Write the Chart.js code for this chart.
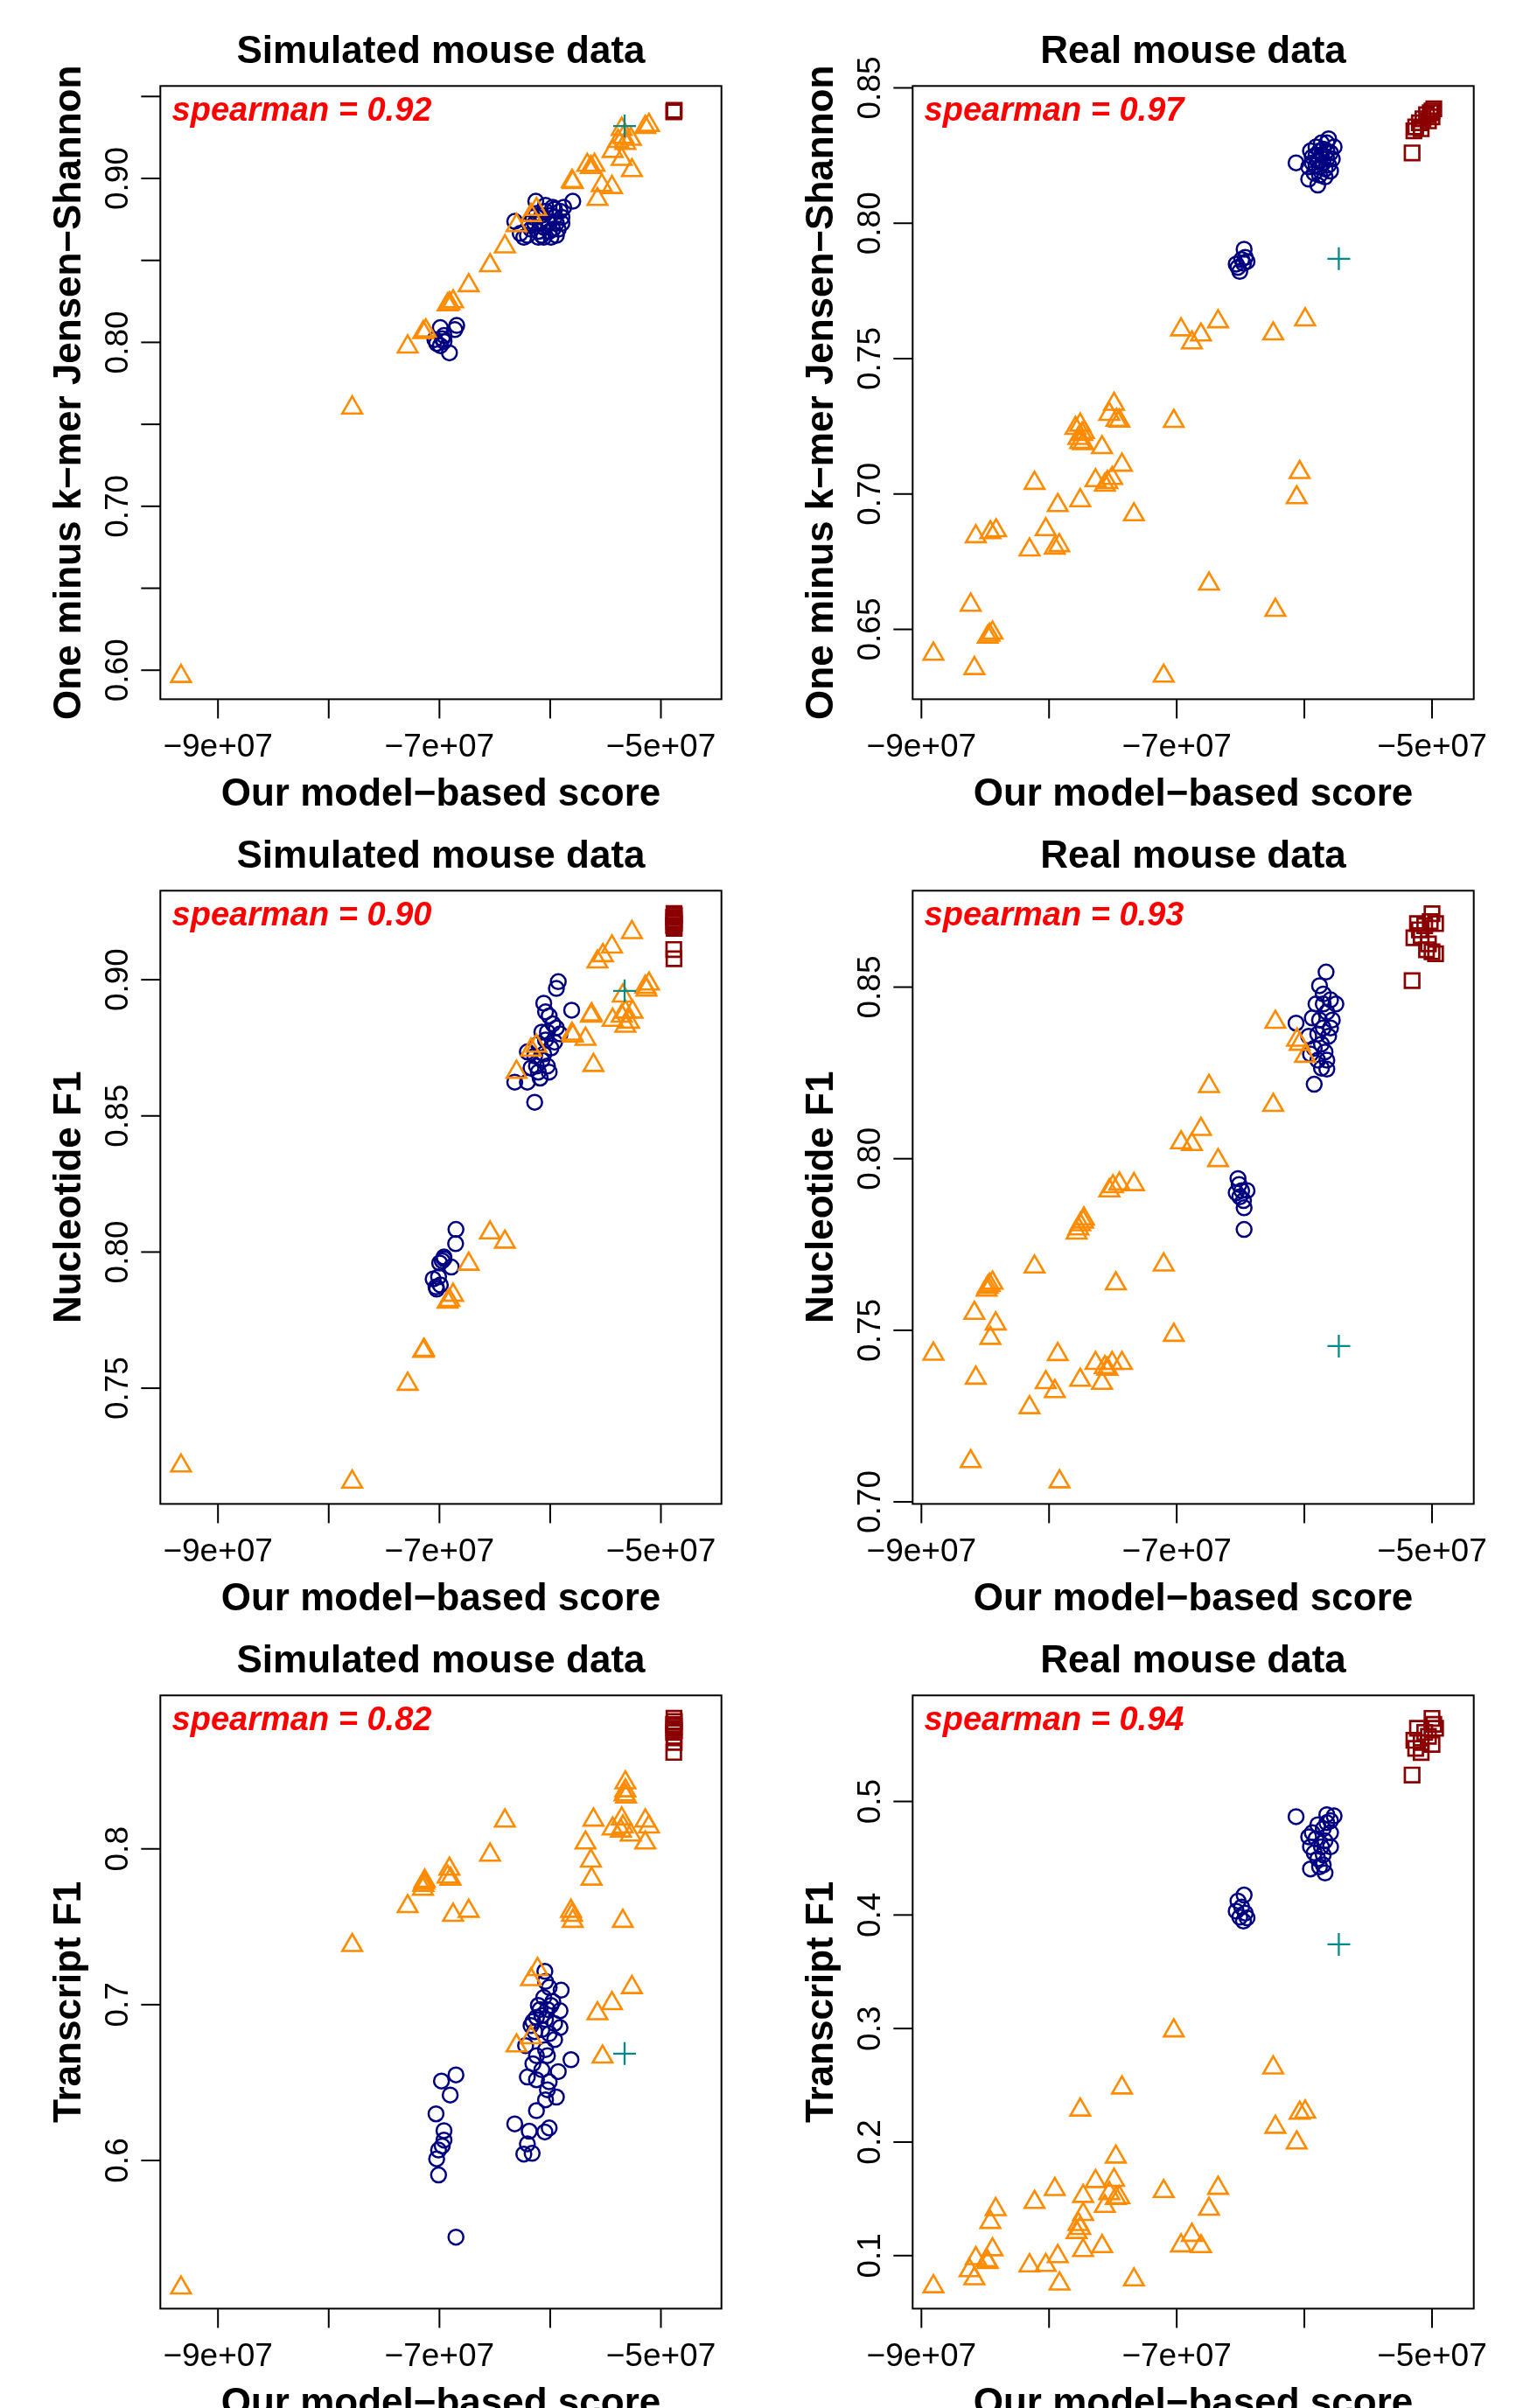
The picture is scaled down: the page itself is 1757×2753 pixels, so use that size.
<!DOCTYPE html>
<html>
<head>
<meta charset="utf-8">
<script src="https://cdn.jsdelivr.net/npm/chart.js@4.4.0/dist/chart.umd.min.js"></script>
<style>
  html, body { margin: 0; padding: 0; background: #fff; }
  #page { position: relative; width: 1757px; height: 2753px; overflow: hidden; background: #fff; }
  canvas { position: absolute; }
</style>
</head>
<body>
<div id="page"></div>
<script>
// ---- axis ticks ----
const xTicks = [-9e7, -8e7, -7e7, -6e7, -5e7];
const xTickLabels = ['\u22129e+07', '', '\u22127e+07', '', '\u22125e+07'];

const kmerSimTicks = [0.60, 0.65, 0.70, 0.75, 0.80, 0.85, 0.90, 0.95];
const kmerSimTickLabels = ['0.60', '', '0.70', '', '0.80', '', '0.90', ''];
const kmerRealTicks = [0.65, 0.70, 0.75, 0.80, 0.85];
const kmerRealTickLabels = ['0.65', '0.70', '0.75', '0.80', '0.85'];
const nucSimTicks = [0.75, 0.80, 0.85, 0.90];
const nucSimTickLabels = ['0.75', '0.80', '0.85', '0.90'];
const nucRealTicks = [0.70, 0.75, 0.80, 0.85];
const nucRealTickLabels = ['0.70', '0.75', '0.80', '0.85'];
const txSimTicks = [0.6, 0.7, 0.8];
const txSimTickLabels = ['0.6', '0.7', '0.8'];
const txRealTicks = [0.1, 0.2, 0.3, 0.4, 0.5];
const txRealTickLabels = ['0.1', '0.2', '0.3', '0.4', '0.5'];

// ---- k-mer, simulated ----
const kmerSimTriX = [-9.334e7, -7.788e7, -7.287e7, -7.146e7, -7.123e7, -6.926e7, -6.910e7, -6.877e7, -6.736e7, -6.543e7, -6.409e7, -6.304e7, -6.173e7, -6.124e7, -5.803e7, -5.796e7, -5.665e7, -5.632e7, -5.600e7, -5.573e7, -5.534e7, -5.442e7, -5.436e7, -5.354e7, -5.262e7, -5.387e7, -5.338e7, -5.321e7, -5.272e7, -5.354e7, -5.141e7, -5.108e7];
const kmerSimTriY = [0.5963, 0.7601, 0.7973, 0.8061, 0.8071, 0.8230, 0.8237, 0.8249, 0.8347, 0.8469, 0.8584, 0.8714, 0.8775, 0.8812, 0.8983, 0.8976, 0.9081, 0.9068, 0.9081, 0.8873, 0.8958, 0.8946, 0.9166, 0.9117, 0.9049, 0.9227, 0.9252, 0.9215, 0.9240, 0.9301, 0.9313, 0.9325];
const kmerSimCircX = [-6.992e7, -6.959e7, -6.844e7, -6.861e7, -7.025e7, -6.992e7, -6.959e7, -6.910e7, -7.041e7, -6.975e7, -6.130e7, -6.320e7, -5.796e7, -6.206e7, -6.107e7, -6.009e7, -5.944e7, -5.911e7, -5.976e7, -6.042e7, -6.075e7, -6.140e7, -6.025e7, -5.960e7, -5.894e7, -6.238e7, -6.173e7, -6.058e7, -5.944e7, -5.878e7, -6.091e7, -5.993e7, -6.124e7, -6.058e7, -5.976e7, -6.271e7, -6.075e7, -5.993e7, -6.156e7, -5.927e7, -6.042e7, -6.107e7, -5.960e7, -5.894e7, -6.189e7, -6.009e7];
const kmerSimCircY = [0.8090, 0.8042, 0.8103, 0.8078, 0.7993, 0.7980, 0.8005, 0.7936, 0.8017, 0.8022, 0.8861, 0.8738, 0.8861, 0.8653, 0.8677, 0.8677, 0.8726, 0.8800, 0.8824, 0.8836, 0.8775, 0.8726, 0.8738, 0.8763, 0.8763, 0.8641, 0.8690, 0.8641, 0.8653, 0.8824, 0.8726, 0.8775, 0.8787, 0.8702, 0.8690, 0.8665, 0.8653, 0.8641, 0.8763, 0.8690, 0.8800, 0.8641, 0.8812, 0.8726, 0.8726, 0.8726];
const kmerSimSqX = [-4.882e7, -4.880e7, -4.884e7];
const kmerSimSqY = [0.9411, 0.9416, 0.9406];
const kmerSimPlusX = [-5.328e7];
const kmerSimPlusY = [0.9320];

// ---- k-mer, real ----
const kmerRealTriX = [-8.906e7, -8.585e7, -8.614e7, -8.480e7, -8.466e7, -8.443e7, -8.574e7, -8.460e7, -8.415e7, -8.153e7, -8.114e7, -8.026e7, -7.955e7, -7.920e7, -7.932e7, -7.756e7, -7.636e7, -7.563e7, -7.543e7, -7.506e7, -7.429e7, -7.335e7, -7.793e7, -7.756e7, -7.741e7, -7.756e7, -7.733e7, -7.770e7, -7.727e7, -7.585e7, -7.528e7, -7.491e7, -7.472e7, -7.449e7, -7.023e7, -7.102e7, -6.966e7, -6.881e7, -6.810e7, -6.676e7, -6.244e7, -5.994e7, -6.747e7, -6.227e7, -6.037e7, -6.060e7];
const kmerRealTriY = [0.6409, 0.6356, 0.6590, 0.6472, 0.6479, 0.6487, 0.6843, 0.6858, 0.6865, 0.6794, 0.7040, 0.6869, 0.6801, 0.6810, 0.6958, 0.6976, 0.7050, 0.7033, 0.7043, 0.7058, 0.7107, 0.6924, 0.7243, 0.7255, 0.7221, 0.7191, 0.7187, 0.7206, 0.7228, 0.7172, 0.7295, 0.7332, 0.7273, 0.7270, 0.7269, 0.6328, 0.7607, 0.7559, 0.7588, 0.7637, 0.7592, 0.7644, 0.6668, 0.6571, 0.7080, 0.6987];
const kmerRealCircX = [-6.472e7, -6.491e7, -6.520e7, -6.477e7, -6.449e7, -6.506e7, -6.534e7, -6.463e7, -6.065e7, -5.966e7, -5.895e7, -5.810e7, -5.767e7, -5.852e7, -5.909e7, -5.938e7, -5.881e7, -5.824e7, -5.795e7, -5.838e7, -5.866e7, -5.952e7, -5.895e7, -5.824e7, -5.781e7, -5.923e7, -5.852e7, -5.881e7, -5.810e7, -5.909e7, -5.938e7, -5.866e7, -5.838e7, -5.909e7, -5.966e7, -5.795e7, -5.881e7, -5.824e7];
const kmerRealCircY = [0.7904, 0.7866, 0.7837, 0.7852, 0.7859, 0.7822, 0.7849, 0.7874, 0.8223, 0.8163, 0.8141, 0.8312, 0.8282, 0.8274, 0.8252, 0.8223, 0.8208, 0.8237, 0.8193, 0.8171, 0.8297, 0.8267, 0.8230, 0.8267, 0.8237, 0.8185, 0.8223, 0.8178, 0.8215, 0.8282, 0.8245, 0.8252, 0.8200, 0.8215, 0.8208, 0.8260, 0.8267, 0.8297];
const kmerRealSqX = [-5.156e7, -5.142e7, -5.128e7, -5.099e7, -5.071e7, -5.043e7, -5.014e7, -5.000e7, -4.986e7, -5.085e7, -5.028e7, -5.000e7];
const kmerRealSqY = [0.8260, 0.8341, 0.8356, 0.8371, 0.8386, 0.8401, 0.8408, 0.8415, 0.8423, 0.8349, 0.8378, 0.8393];
const kmerRealPlusX = [-5.730e7];
const kmerRealPlusY = [0.7869];

// ---- nucleotide F1, simulated ----
const nucSimTriX = [-9.334e7, -7.788e7, -7.287e7, -7.146e7, -7.139e7, -6.926e7, -6.910e7, -6.877e7, -6.736e7, -6.543e7, -6.409e7, -6.304e7, -6.173e7, -6.124e7, -5.803e7, -5.796e7, -5.681e7, -5.609e7, -5.632e7, -5.626e7, -5.573e7, -5.524e7, -5.442e7, -5.262e7, -5.344e7, -5.321e7, -5.354e7, -5.288e7, -5.321e7, -5.256e7, -5.436e7, -5.141e7, -5.108e7, -5.131e7];
const nucSimTriY = [0.7215, 0.7156, 0.7515, 0.7636, 0.7640, 0.7817, 0.7823, 0.7842, 0.7956, 0.8071, 0.8037, 0.8661, 0.8742, 0.8757, 0.8801, 0.8794, 0.8782, 0.8686, 0.8867, 0.8872, 0.9066, 0.9089, 0.9121, 0.9174, 0.8941, 0.8882, 0.8867, 0.8845, 0.8830, 0.8882, 0.8852, 0.8973, 0.8985, 0.8963];
const nucSimCircX = [-6.851e7, -6.854e7, -6.959e7, -6.975e7, -6.998e7, -6.893e7, -7.057e7, -7.008e7, -7.025e7, -6.992e7, -7.031e7, -6.959e7, -5.927e7, -5.944e7, -6.058e7, -5.806e7, -6.042e7, -6.009e7, -5.976e7, -6.075e7, -5.944e7, -5.911e7, -6.107e7, -6.042e7, -5.993e7, -6.140e7, -6.206e7, -6.075e7, -6.025e7, -6.107e7, -6.173e7, -6.320e7, -6.206e7, -6.091e7, -6.140e7, -6.009e7, -6.058e7, -5.960e7, -6.124e7, -6.025e7];
const nucSimCircY = [0.8083, 0.8031, 0.7982, 0.7968, 0.7960, 0.7945, 0.7901, 0.7909, 0.7864, 0.7879, 0.7872, 0.7975, 0.8993, 0.8968, 0.8914, 0.8888, 0.8882, 0.8867, 0.8838, 0.8808, 0.8823, 0.8801, 0.8764, 0.8779, 0.8749, 0.8720, 0.8735, 0.8705, 0.8683, 0.8661, 0.8676, 0.8624, 0.8624, 0.8639, 0.8550, 0.8661, 0.8727, 0.8771, 0.8683, 0.8808];
const nucSimSqX = [-4.882e7, -4.878e7, -4.886e7, -4.880e7, -4.884e7, -4.878e7, -4.886e7, -4.882e7, -4.880e7, -4.884e7, -4.882e7];
const nucSimSqY = [0.9243, 0.9236, 0.9229, 0.9221, 0.9214, 0.9207, 0.9199, 0.9194, 0.9189, 0.9111, 0.9077];
const nucSimPlusX = [-5.328e7];
const nucSimPlusY = [0.8959];

// ---- nucleotide F1, real ----
const nucRealTriX = [-8.906e7, -8.614e7, -8.574e7, -8.585e7, -8.480e7, -8.466e7, -8.443e7, -8.489e7, -8.418e7, -8.460e7, -8.114e7, -8.153e7, -8.026e7, -7.955e7, -7.932e7, -7.756e7, -7.636e7, -7.585e7, -7.563e7, -7.543e7, -7.506e7, -7.429e7, -7.918e7, -7.784e7, -7.770e7, -7.756e7, -7.733e7, -7.727e7, -7.528e7, -7.500e7, -7.449e7, -7.335e7, -7.477e7, -7.102e7, -7.023e7, -6.966e7, -6.881e7, -6.810e7, -6.676e7, -6.747e7, -6.244e7, -6.227e7, -6.057e7, -6.037e7, -5.994e7];
const nucRealTriY = [0.7431, 0.7118, 0.7361, 0.7550, 0.7626, 0.7632, 0.7638, 0.7618, 0.7519, 0.7477, 0.7685, 0.7275, 0.7348, 0.7322, 0.7430, 0.7355, 0.7404, 0.7346, 0.7392, 0.7387, 0.7404, 0.7404, 0.7059, 0.7784, 0.7796, 0.7808, 0.7816, 0.7825, 0.7907, 0.7919, 0.7927, 0.7925, 0.7636, 0.7691, 0.7486, 0.8047, 0.8042, 0.8086, 0.7995, 0.8211, 0.8156, 0.8398, 0.8346, 0.8334, 0.8299];
const nucRealCircX = [-6.520e7, -6.511e7, -6.491e7, -6.449e7, -6.506e7, -6.477e7, -6.534e7, -6.472e7, -6.472e7, -5.830e7, -5.881e7, -5.852e7, -5.795e7, -5.753e7, -5.909e7, -5.824e7, -5.881e7, -5.781e7, -5.938e7, -5.852e7, -5.895e7, -5.810e7, -5.966e7, -6.065e7, -5.866e7, -5.923e7, -5.838e7, -5.895e7, -5.824e7, -5.866e7, -5.824e7, -5.923e7, -5.952e7, -5.795e7, -5.852e7];
const nucRealCircY = [0.7942, 0.7925, 0.7907, 0.7907, 0.7889, 0.7878, 0.7901, 0.7857, 0.7794, 0.8544, 0.8504, 0.8480, 0.8463, 0.8451, 0.8451, 0.8427, 0.8404, 0.8404, 0.8410, 0.8381, 0.8363, 0.8357, 0.8357, 0.8395, 0.8334, 0.8322, 0.8311, 0.8287, 0.8287, 0.8264, 0.8261, 0.8217, 0.8305, 0.8381, 0.8451];
const nucRealSqX = [-5.156e7, -5.000e7, -4.972e7, -5.114e7, -5.057e7, -5.142e7, -5.085e7, -5.028e7, -5.000e7, -4.972e7, -5.043e7, -5.014e7, -5.099e7];
const nucRealSqY = [0.8519, 0.8714, 0.8685, 0.8685, 0.8679, 0.8644, 0.8650, 0.8626, 0.8603, 0.8597, 0.8609, 0.8691, 0.8667];
const nucRealPlusX = [-5.730e7];
const nucRealPlusY = [0.7454];

// ---- transcript F1, simulated ----
const txSimTriX = [-9.334e7, -7.788e7, -7.287e7, -7.146e7, -7.139e7, -7.133e7, -7.149e7, -6.926e7, -6.910e7, -6.900e7, -6.877e7, -6.736e7, -6.543e7, -6.409e7, -6.304e7, -6.173e7, -6.173e7, -6.114e7, -5.803e7, -5.796e7, -5.812e7, -5.681e7, -5.632e7, -5.626e7, -5.609e7, -5.573e7, -5.527e7, -5.442e7, -5.344e7, -5.321e7, -5.321e7, -5.328e7, -5.315e7, -5.354e7, -5.344e7, -5.361e7, -5.272e7, -5.436e7, -5.262e7, -5.141e7, -5.108e7, -5.141e7];
const txSimTriY = [0.5183, 0.7381, 0.7631, 0.7768, 0.7781, 0.7794, 0.7742, 0.7820, 0.7871, 0.7807, 0.7575, 0.7601, 0.7961, 0.8180, 0.6737, 0.6789, 0.7162, 0.7227, 0.7575, 0.7536, 0.7601, 0.8039, 0.7923, 0.7807, 0.8186, 0.6943, 0.6665, 0.7008, 0.7536, 0.8425, 0.8374, 0.8348, 0.8335, 0.8193, 0.8142, 0.8116, 0.8090, 0.8129, 0.7111, 0.8180, 0.8142, 0.8039];
const txSimCircX = [-6.851e7, -6.982e7, -6.903e7, -7.031e7, -6.959e7, -6.959e7, -6.975e7, -7.008e7, -7.025e7, -7.008e7, -6.851e7, -6.048e7, -6.042e7, -6.009e7, -5.901e7, -6.058e7, -5.976e7, -6.025e7, -6.091e7, -5.911e7, -6.124e7, -6.042e7, -5.960e7, -6.173e7, -5.911e7, -6.075e7, -6.009e7, -5.960e7, -6.140e7, -6.222e7, -6.042e7, -6.124e7, -6.025e7, -5.812e7, -6.156e7, -6.075e7, -5.927e7, -6.206e7, -6.124e7, -6.009e7, -6.025e7, -5.944e7, -6.042e7, -6.124e7, -6.320e7, -6.189e7, -6.048e7, -6.009e7, -6.206e7, -6.238e7, -6.163e7, -6.107e7, -5.993e7, -6.075e7, -6.156e7];
const txSimCircY = [0.6549, 0.6510, 0.6420, 0.6299, 0.6191, 0.6131, 0.6093, 0.6067, 0.6010, 0.5907, 0.5508, 0.7214, 0.7149, 0.7111, 0.7093, 0.7046, 0.7021, 0.6969, 0.6969, 0.6961, 0.6918, 0.6905, 0.6879, 0.6866, 0.6853, 0.6840, 0.6814, 0.6776, 0.6827, 0.6737, 0.6711, 0.6673, 0.6673, 0.6647, 0.6621, 0.6582, 0.6570, 0.6536, 0.6518, 0.6505, 0.6454, 0.6407, 0.6389, 0.6320, 0.6235, 0.6188, 0.6183, 0.6209, 0.6106, 0.6041, 0.6046, 0.6995, 0.6995, 0.6930, 0.6892];
const txSimSqX = [-4.882e7, -4.878e7, -4.886e7, -4.880e7, -4.884e7, -4.878e7, -4.886e7, -4.882e7, -4.880e7, -4.884e7];
const txSimSqY = [0.8838, 0.8818, 0.8799, 0.8786, 0.8773, 0.8760, 0.8747, 0.8722, 0.8683, 0.8619];
const txSimPlusX = [-5.328e7];
const txSimPlusY = [0.6686];

// ---- transcript F1, real ----
const txRealTriX = [-8.906e7, -8.585e7, -8.622e7, -8.574e7, -8.480e7, -8.489e7, -8.443e7, -8.460e7, -8.418e7, -8.153e7, -8.114e7, -8.026e7, -7.932e7, -7.955e7, -7.918e7, -7.784e7, -7.756e7, -7.770e7, -7.733e7, -7.733e7, -7.733e7, -7.756e7, -7.636e7, -7.585e7, -7.563e7, -7.528e7, -7.491e7, -7.449e7, -7.477e7, -7.477e7, -7.429e7, -7.335e7, -7.102e7, -7.023e7, -6.966e7, -6.881e7, -6.810e7, -6.747e7, -6.676e7, -6.244e7, -6.227e7, -6.060e7, -6.037e7, -5.994e7];
const txRealTriY = [0.0728, 0.0798, 0.0869, 0.0975, 0.0940, 0.0958, 0.1053, 0.1294, 0.1407, 0.0912, 0.1470, 0.0915, 0.0993, 0.1584, 0.0752, 0.1205, 0.1241, 0.1276, 0.1046, 0.1364, 0.1523, 0.2284, 0.1654, 0.1081, 0.1435, 0.1548, 0.1665, 0.1513, 0.1506, 0.1870, 0.2478, 0.0788, 0.1566, 0.2981, 0.1088, 0.1180, 0.1081, 0.1410, 0.1594, 0.2655, 0.2132, 0.1994, 0.2256, 0.2266];
const txRealCircX = [-6.472e7, -6.520e7, -6.491e7, -6.534e7, -6.463e7, -6.506e7, -6.449e7, -6.477e7, -6.065e7, -5.824e7, -5.767e7, -5.795e7, -5.895e7, -5.852e7, -5.795e7, -5.966e7, -5.909e7, -5.838e7, -5.952e7, -5.866e7, -5.795e7, -5.923e7, -5.852e7, -5.895e7, -5.952e7, -5.881e7, -5.838e7, -5.852e7, -5.938e7, -5.824e7];
const txRealCircY = [0.4176, 0.4123, 0.4070, 0.4034, 0.4017, 0.3981, 0.3974, 0.3946, 0.4866, 0.4883, 0.4873, 0.4830, 0.4795, 0.4760, 0.4724, 0.4689, 0.4671, 0.4653, 0.4600, 0.4600, 0.4600, 0.4547, 0.4530, 0.4494, 0.4406, 0.4424, 0.4370, 0.4441, 0.4724, 0.4813];
const txRealSqX = [-5.156e7, -5.000e7, -4.986e7, -5.114e7, -5.057e7, -5.142e7, -5.085e7, -5.028e7, -5.085e7, -5.000e7, -5.128e7, -4.972e7];
const txRealSqY = [0.5233, 0.5732, 0.5679, 0.5644, 0.5608, 0.5538, 0.5520, 0.5573, 0.5431, 0.5502, 0.5467, 0.5644];
const txRealPlusX = [-5.730e7];
const txRealPlusY = [0.3741];

const FONT = '"Liberation Sans", Arial, Helvetica, sans-serif';
const BOX = { left: 183.3, top: 98.3, width: 641.4, height: 701.1 };

const series = (xs, ys, style, radius, color, width) => ({
  data: xs.map((x, i) => ({ x: x, y: ys[i] })),
  pointStyle: style,
  pointRadius: radius,
  pointHoverRadius: radius,
  pointBorderColor: color,
  pointBackgroundColor: 'rgba(0,0,0,0)',
  pointBorderWidth: width,
  borderColor: color,
  showLine: false,
  clip: false
});

// R-like frame, ticks and texts, drawn from the chart's scales
const makeFrame = (p) => ({
  id: 'rFrame',
  afterDraw(chart) {
    const ctx = chart.ctx;
    const a = chart.chartArea;
    const xs = chart.scales.x, ys = chart.scales.y;
    const cx = (a.left + a.right) / 2;
    ctx.save();
    ctx.strokeStyle = '#000';
    ctx.fillStyle = '#000';
    ctx.lineWidth = 2;
    ctx.strokeRect(a.left, a.top, a.right - a.left, a.bottom - a.top);

    ctx.font = '37px ' + FONT;
    ctx.textAlign = 'center';
    ctx.textBaseline = 'alphabetic';
    xTicks.forEach((v, i) => {
      const px = xs.getPixelForValue(v);
      ctx.beginPath(); ctx.moveTo(px, a.bottom); ctx.lineTo(px, a.bottom + 22); ctx.stroke();
      if (xTickLabels[i]) ctx.fillText(xTickLabels[i], px, a.bottom + 66);
    });
    p.yTicks.forEach((v, i) => {
      const py = ys.getPixelForValue(v);
      ctx.beginPath(); ctx.moveTo(a.left, py); ctx.lineTo(a.left - 22, py); ctx.stroke();
      if (p.yLabels[i]) {
        ctx.save();
        ctx.translate(a.left - 37, py);
        ctx.rotate(-Math.PI / 2);
        ctx.fillText(p.yLabels[i], 0, 0);
        ctx.restore();
      }
    });

    ctx.font = 'bold 44px ' + FONT;
    ctx.fillText(p.title, cx, a.top - 26.5);
    ctx.fillText('Our model\u2212based score', cx, a.bottom + 121.5);
    ctx.save();
    ctx.translate(a.left - 91.6, (a.top + a.bottom) / 2);
    ctx.rotate(-Math.PI / 2);
    ctx.fillText(p.yTitle, 0, 0);
    ctx.restore();

    ctx.fillStyle = '#FF0000';
    ctx.textAlign = 'left';
    ctx.font = 'italic bold 38px ' + FONT;
    ctx.fillText(p.note, a.left + 13.3, a.top + 40);
    ctx.restore();
  }
});

const panels = [
  { col: 0, row: 0, title: 'Simulated mouse data', yTitle: 'One minus k\u2212mer Jensen\u2212Shannon', note: 'spearman = 0.92',
    xMin: -9.5205e7, xMax: -4.4534e7, yMin: 0.5823, yMax: 0.9564, yTicks: kmerSimTicks, yLabels: kmerSimTickLabels,
    tri: [kmerSimTriX, kmerSimTriY], circ: [kmerSimCircX, kmerSimCircY], sq: [kmerSimSqX, kmerSimSqY], plus: [kmerSimPlusX, kmerSimPlusY] },
  { col: 1, row: 0, title: 'Real mouse data', yTitle: 'One minus k\u2212mer Jensen\u2212Shannon', note: 'spearman = 0.97',
    xMin: -9.0685e7, xMax: -4.673e7, yMin: 0.6242, yMax: 0.8507, yTicks: kmerRealTicks, yLabels: kmerRealTickLabels,
    tri: [kmerRealTriX, kmerRealTriY], circ: [kmerRealCircX, kmerRealCircY], sq: [kmerRealSqX, kmerRealSqY], plus: [kmerRealPlusX, kmerRealPlusY] },
  { col: 0, row: 1, title: 'Simulated mouse data', yTitle: 'Nucleotide F1', note: 'spearman = 0.90',
    xMin: -9.5205e7, xMax: -4.4534e7, yMin: 0.7075, yMax: 0.9327, yTicks: nucSimTicks, yLabels: nucSimTickLabels,
    tri: [nucSimTriX, nucSimTriY], circ: [nucSimCircX, nucSimCircY], sq: [nucSimSqX, nucSimSqY], plus: [nucSimPlusX, nucSimPlusY] },
  { col: 1, row: 1, title: 'Real mouse data', yTitle: 'Nucleotide F1', note: 'spearman = 0.93',
    xMin: -9.0685e7, xMax: -4.673e7, yMin: 0.6994, yMax: 0.8781, yTicks: nucRealTicks, yLabels: nucRealTickLabels,
    tri: [nucRealTriX, nucRealTriY], circ: [nucRealCircX, nucRealCircY], sq: [nucRealSqX, nucRealSqY], plus: [nucRealPlusX, nucRealPlusY] },
  { col: 0, row: 2, title: 'Simulated mouse data', yTitle: 'Transcript F1', note: 'spearman = 0.82',
    xMin: -9.5205e7, xMax: -4.4534e7, yMin: 0.5049, yMax: 0.8985, yTicks: txSimTicks, yLabels: txSimTickLabels,
    tri: [txSimTriX, txSimTriY], circ: [txSimCircX, txSimCircY], sq: [txSimSqX, txSimSqY], plus: [txSimPlusX, txSimPlusY] },
  { col: 1, row: 2, title: 'Real mouse data', yTitle: 'Transcript F1', note: 'spearman = 0.94',
    xMin: -9.0685e7, xMax: -4.673e7, yMin: 0.0533, yMax: 0.5934, yTicks: txRealTicks, yLabels: txRealTickLabels,
    tri: [txRealTriX, txRealTriY], circ: [txRealCircX, txRealCircY], sq: [txRealSqX, txRealSqY], plus: [txRealPlusX, txRealPlusY] }
];

const page = document.getElementById('page');

panels.forEach(p => {
  const W = p.col === 0 ? 860 : 897;
  const H = p.row === 2 ? 913 : 940;
  const canvas = document.createElement('canvas');
  canvas.width = W;
  canvas.height = H;
  canvas.style.left = (p.col * 860) + 'px';
  canvas.style.top = (p.row * 920) + 'px';
  canvas.style.width = W + 'px';
  canvas.style.height = H + 'px';
  page.appendChild(canvas);

  new Chart(canvas, {
    type: 'scatter',
    data: {
      datasets: [
        series(p.plus[0], p.plus[1], 'cross', 13, '#008B8B', 2.3),
        series(p.sq[0], p.sq[1], 'rect', 11.7, '#8B0000', 2.7),
        series(p.tri[0], p.tri[1], 'triangle', 13, '#FF8C00', 2.6),
        series(p.circ[0], p.circ[1], 'circle', 8.5, '#000080', 2.5)
      ]
    },
    options: {
      responsive: false,
      animation: false,
      devicePixelRatio: 1,
      events: [],
      layout: {
        padding: {
          left: BOX.left,
          top: BOX.top,
          right: W - BOX.left - BOX.width,
          bottom: H - BOX.top - BOX.height
        }
      },
      scales: {
        x: { type: 'linear', min: p.xMin, max: p.xMax, display: false },
        y: { type: 'linear', min: p.yMin, max: p.yMax, display: false }
      },
      plugins: {
        legend: { display: false },
        tooltip: { enabled: false },
        title: { display: false }
      }
    },
    plugins: [makeFrame(p)]
  });
});
</script>
</body>
</html>
